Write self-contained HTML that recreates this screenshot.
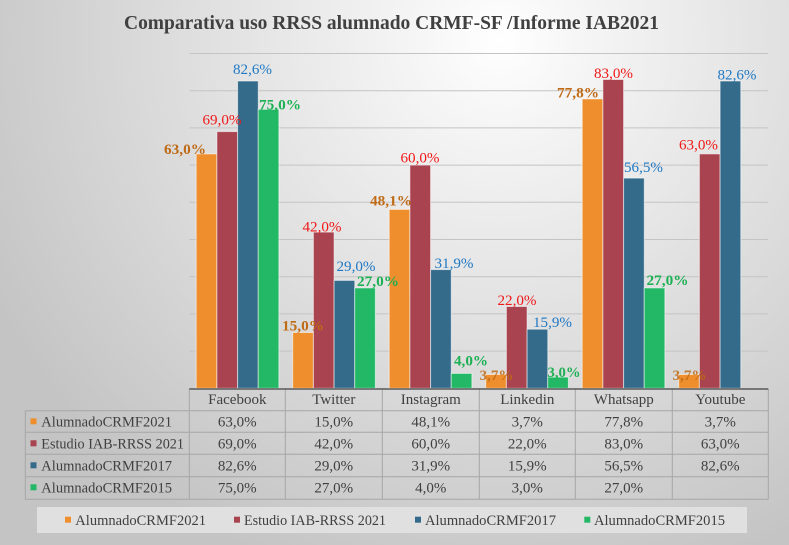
<!DOCTYPE html>
<html><head><meta charset="utf-8"><style>
html,body{margin:0;padding:0;width:789px;height:545px;overflow:hidden;}
svg{display:block;}
text{font-family:"Liberation Serif",serif;}
</style></head><body>
<svg width="789" height="545" viewBox="0 0 789 545" xmlns="http://www.w3.org/2000/svg">
<defs>
<radialGradient id="bg" gradientUnits="userSpaceOnUse" cx="500" cy="40" r="570">
<stop offset="0" stop-color="#ffffff"/>
<stop offset="0.12" stop-color="#f7f7f7"/>
<stop offset="1" stop-color="#c4c4c4"/>
</radialGradient>
</defs>
<rect x="0" y="0" width="789" height="545" fill="url(#bg)"/>

<!-- title -->
<text x="391.5" y="29" text-anchor="middle" font-size="19.5" font-weight="bold" fill="#404040" textLength="535" lengthAdjust="spacingAndGlyphs">Comparativa uso RRSS alumnado CRMF-SF /Informe IAB2021</text>

<!-- gridlines -->
<g stroke="#c4c4c4" stroke-width="1">
<line x1="189.3" x2="768" y1="351.1" y2="351.1"/>
<line x1="189.3" x2="768" y1="313.9" y2="313.9"/>
<line x1="189.3" x2="768" y1="276.7" y2="276.7"/>
<line x1="189.3" x2="768" y1="239.5" y2="239.5"/>
<line x1="189.3" x2="768" y1="202.3" y2="202.3"/>
<line x1="189.3" x2="768" y1="165.1" y2="165.1"/>
<line x1="189.3" x2="768" y1="127.9" y2="127.9"/>
<line x1="189.3" x2="768" y1="90.7" y2="90.7"/>
<line x1="189.3" x2="768" y1="53.5" y2="53.5"/>
</g>

<!-- bars -->
<g stroke="#ffffff" stroke-opacity="0.55" stroke-width="1">
<g fill="#EE8E2C">
<rect x="196.2" y="153.9" width="20.68" height="234.4"/>
<rect x="292.7" y="332.5" width="20.68" height="55.8"/>
<rect x="389.2" y="209.4" width="20.68" height="178.9"/>
<rect x="485.7" y="374.5" width="20.68" height="13.8"/>
<rect x="582.2" y="98.9" width="20.68" height="289.4"/>
<rect x="678.7" y="374.5" width="20.68" height="13.8"/>
</g>
<g fill="#A8434F">
<rect x="216.9" y="131.6" width="20.68" height="256.7"/>
<rect x="313.4" y="232.1" width="20.68" height="156.2"/>
<rect x="409.9" y="165.1" width="20.68" height="223.2"/>
<rect x="506.4" y="306.5" width="20.68" height="81.8"/>
<rect x="602.9" y="79.5" width="20.68" height="308.8"/>
<rect x="699.4" y="153.9" width="20.68" height="234.4"/>
</g>
<g fill="#356B8A">
<rect x="237.6" y="81.0" width="20.68" height="307.3"/>
<rect x="334.1" y="280.4" width="20.68" height="107.9"/>
<rect x="430.6" y="269.6" width="20.68" height="118.7"/>
<rect x="527.1" y="329.2" width="20.68" height="59.1"/>
<rect x="623.6" y="178.1" width="20.68" height="210.2"/>
<rect x="720.1" y="81.0" width="20.68" height="307.3"/>
</g>
<g fill="#23B866">
<rect x="258.2" y="109.3" width="20.68" height="279"/>
<rect x="354.7" y="287.9" width="20.68" height="100.4"/>
<rect x="451.2" y="373.4" width="20.68" height="14.9"/>
<rect x="547.7" y="377.1" width="20.68" height="11.2"/>
<rect x="644.2" y="287.9" width="20.68" height="100.4"/>
</g>
</g>

<!-- data labels -->
<g font-size="14.7" text-anchor="middle" lengthAdjust="spacingAndGlyphs">
<g fill="#BF6A14" font-weight="bold">
<text x="185" y="154" textLength="42" lengthAdjust="spacingAndGlyphs">63,0%</text>
<text x="303" y="330.5" textLength="42" lengthAdjust="spacingAndGlyphs">15,0%</text>
<text x="391" y="205.5" textLength="42" lengthAdjust="spacingAndGlyphs">48,1%</text>
<text x="496.5" y="380" fill-opacity="0.85" textLength="34" lengthAdjust="spacingAndGlyphs">3,7%</text>
<text x="578" y="97.5" textLength="42" lengthAdjust="spacingAndGlyphs">77,8%</text>
<text x="689.5" y="380" fill-opacity="0.85" textLength="34" lengthAdjust="spacingAndGlyphs">3,7%</text>
</g>
<g fill="#F01818">
<text x="222" y="124.5" textLength="39" lengthAdjust="spacingAndGlyphs">69,0%</text>
<text x="322" y="231.5" textLength="39" lengthAdjust="spacingAndGlyphs">42,0%</text>
<text x="420" y="162.5" textLength="39" lengthAdjust="spacingAndGlyphs">60,0%</text>
<text x="517" y="305" textLength="39" lengthAdjust="spacingAndGlyphs">22,0%</text>
<text x="613.5" y="78" textLength="39" lengthAdjust="spacingAndGlyphs">83,0%</text>
<text x="698.5" y="149.5" textLength="39" lengthAdjust="spacingAndGlyphs">63,0%</text>
</g>
<g fill="#1F78C4">
<text x="252.5" y="74" textLength="39" lengthAdjust="spacingAndGlyphs">82,6%</text>
<text x="356" y="271" textLength="39" lengthAdjust="spacingAndGlyphs">29,0%</text>
<text x="454" y="268" textLength="39" lengthAdjust="spacingAndGlyphs">31,9%</text>
<text x="552.5" y="327" textLength="39" lengthAdjust="spacingAndGlyphs">15,9%</text>
<text x="643.5" y="172" textLength="39" lengthAdjust="spacingAndGlyphs">56,5%</text>
<text x="737" y="79.5" textLength="39" lengthAdjust="spacingAndGlyphs">82,6%</text>
</g>
<g fill="#1DB054" font-weight="bold">
<text x="280" y="109.5" textLength="42" lengthAdjust="spacingAndGlyphs">75,0%</text>
<text x="378" y="286" textLength="42" lengthAdjust="spacingAndGlyphs">27,0%</text>
<text x="471" y="365.5" textLength="34" lengthAdjust="spacingAndGlyphs">4,0%</text>
<text x="564" y="377" textLength="33" lengthAdjust="spacingAndGlyphs">3,0%</text>
<text x="667.5" y="285" textLength="42" lengthAdjust="spacingAndGlyphs">27,0%</text>
</g>
</g>

<!-- data table -->
<g stroke="#a6a6a6" stroke-width="1" fill="none">
<line x1="25.3" x2="768.3" y1="410.7" y2="410.7"/>
<line x1="25.3" x2="768.3" y1="432.3" y2="432.3"/>
<line x1="25.3" x2="768.3" y1="454.3" y2="454.3"/>
<line x1="25.3" x2="768.3" y1="476.7" y2="476.7"/>
<line x1="25.3" x2="768.3" y1="499.3" y2="499.3"/>
<line x1="25.3" x2="25.3" y1="410.7" y2="499.3"/>
<line x1="189.3" x2="189.3" y1="389" y2="499.3"/>
<line x1="285.3" x2="285.3" y1="389" y2="499.3"/>
<line x1="382.3" x2="382.3" y1="389" y2="499.3"/>
<line x1="479.3" x2="479.3" y1="389" y2="499.3"/>
<line x1="575.3" x2="575.3" y1="389" y2="499.3"/>
<line x1="672.3" x2="672.3" y1="389" y2="499.3"/>
<line x1="768.3" x2="768.3" y1="389" y2="499.3"/>
</g>
<line x1="189.3" x2="768.3" y1="389" y2="389" stroke="#595959" stroke-width="1.6"/>

<g font-size="15" fill="#404040" text-anchor="middle">
<text x="237.3" y="404">Facebook</text>
<text x="333.8" y="404">Twitter</text>
<text x="430.8" y="404">Instagram</text>
<text x="527.3" y="404">Linkedin</text>
<text x="623.8" y="404">Whatsapp</text>
<text x="720.3" y="404">Youtube</text>

<text x="237.3" y="426.5">63,0%</text>
<text x="333.8" y="426.5">15,0%</text>
<text x="430.8" y="426.5">48,1%</text>
<text x="527.3" y="426.5">3,7%</text>
<text x="623.8" y="426.5">77,8%</text>
<text x="720.3" y="426.5">3,7%</text>

<text x="237.3" y="448.5">69,0%</text>
<text x="333.8" y="448.5">42,0%</text>
<text x="430.8" y="448.5">60,0%</text>
<text x="527.3" y="448.5">22,0%</text>
<text x="623.8" y="448.5">83,0%</text>
<text x="720.3" y="448.5">63,0%</text>

<text x="237.3" y="470.5">82,6%</text>
<text x="333.8" y="470.5">29,0%</text>
<text x="430.8" y="470.5">31,9%</text>
<text x="527.3" y="470.5">15,9%</text>
<text x="623.8" y="470.5">56,5%</text>
<text x="720.3" y="470.5">82,6%</text>

<text x="237.3" y="492.5">75,0%</text>
<text x="333.8" y="492.5">27,0%</text>
<text x="430.8" y="492.5">4,0%</text>
<text x="527.3" y="492.5">3,0%</text>
<text x="623.8" y="492.5">27,0%</text>
</g>

<g font-size="14.7" fill="#404040">
<rect x="30.5" y="418.3" width="6" height="6" fill="#EE8E2C"/>
<text x="41.3" y="426.5" textLength="130.7" lengthAdjust="spacingAndGlyphs">AlumnadoCRMF2021</text>
<rect x="30.5" y="440.3" width="6" height="6" fill="#A8434F"/>
<text x="41.3" y="448.5" textLength="142.7" lengthAdjust="spacingAndGlyphs">Estudio IAB-RRSS 2021</text>
<rect x="30.5" y="462.3" width="6" height="6" fill="#356B8A"/>
<text x="41.3" y="470.5" textLength="130.7" lengthAdjust="spacingAndGlyphs">AlumnadoCRMF2017</text>
<rect x="30.5" y="484.3" width="6" height="6" fill="#23B866"/>
<text x="41.3" y="492.5" textLength="130.7" lengthAdjust="spacingAndGlyphs">AlumnadoCRMF2015</text>
</g>

<!-- legend -->
<rect x="37" y="507" width="710" height="26" fill="#e0e0e0"/>
<g font-size="14.7" fill="#404040">
<rect x="65" y="516.7" width="6" height="6" fill="#EE8E2C"/>
<text x="75.3" y="525" textLength="130.7" lengthAdjust="spacingAndGlyphs">AlumnadoCRMF2021</text>
<rect x="234" y="516.7" width="6" height="6" fill="#A8434F"/>
<text x="244" y="525" textLength="142" lengthAdjust="spacingAndGlyphs">Estudio IAB-RRSS 2021</text>
<rect x="415" y="516.7" width="6" height="6" fill="#356B8A"/>
<text x="425" y="525" textLength="131" lengthAdjust="spacingAndGlyphs">AlumnadoCRMF2017</text>
<rect x="584.3" y="516.7" width="6" height="6" fill="#23B866"/>
<text x="594" y="525" textLength="131" lengthAdjust="spacingAndGlyphs">AlumnadoCRMF2015</text>
</g>
</svg>
</body></html>
